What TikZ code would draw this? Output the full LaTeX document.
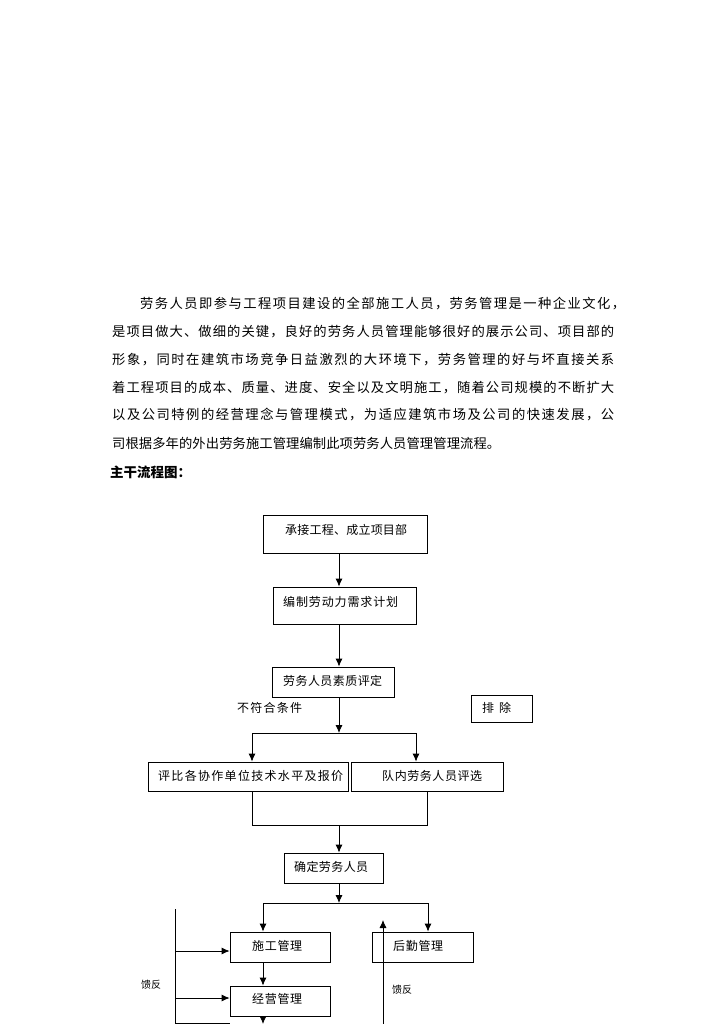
\documentclass[tikz,border=0pt]{standalone}
\usepackage{fontspec}
\setmainfont{Noto Sans CJK SC}
\usetikzlibrary{arrows.meta}
\makeatletter
\def\jl@#1{#1\futurelet\jl@next\jl@c}
\def\jl@c{\ifx\jl@next\relax\expandafter\@gobble\else\hfil\expandafter\jl@\fi}
\newcommand\jline[2]{\hbox to #1{\jl@#2\relax}}
\makeatother
\tikzset{
  box/.style={draw, line width=0.8pt, inner sep=0pt},
  para/.style={anchor=west, inner sep=0pt, font=\fontsize{13.3pt}{13.3pt}\selectfont},
  ftext/.style={anchor=west, inner sep=0pt, font=\fontsize{12pt}{12pt}\selectfont},
  small/.style={anchor=west, inner sep=0pt, font=\fontsize{10pt}{10pt}\selectfont},
  conn/.style={line width=0.8pt},
  arr/.style={line width=0.8pt, -{Latex[length=8pt,width=7pt]}}
}
\begin{document}
\begin{tikzpicture}[x=1pt,y=-1pt]
\useasboundingbox (0,0) rectangle (724,1024);
% paragraph
\node[para] (p1) at (140,304) {\jline{485pt}{劳务人员即参与工程项目建设的全部施工人员，劳务管理是一种企业文化，}};
\node[para] (p2) at (112,332) {\jline{502pt}{是项目做大、做细的关键，良好的劳务人员管理能够很好的展示公司、项目部的}};
\node[para] (p3) at (112,360) {\jline{502pt}{形象，同时在建筑市场竞争日益激烈的大环境下，劳务管理的好与坏直接关系}};
\node[para] (p4) at (112,387.5) {\jline{502pt}{着工程项目的成本、质量、进度、安全以及文明施工，随着公司规模的不断扩大}};
\node[para] (p5) at (112,415) {\jline{502pt}{以及公司特例的经营理念与管理模式，为适应建筑市场及公司的快速发展，公}};
\node[para] (p6) at (112,443) {\jline{388pt}{司根据多年的外出劳务施工管理编制此项劳务人员管理管理流程。}};
\node[para, font=\fontsize{13.5pt}{13.5pt}\selectfont\bfseries] (title) at (110,472) {主干流程图：};
% boxes
\node[box, minimum width=164pt, minimum height=38pt] (b1) at (345,534) {};
\node[box, minimum width=143pt, minimum height=37pt] (b2) at (344.5,605.5) {};
\node[box, minimum width=122pt, minimum height=30pt] (b3) at (333,682) {};
\node[box, minimum width=61pt, minimum height=27pt] (bx) at (501.5,708.5) {};
\node[box, minimum width=200pt, minimum height=29pt] (b4) at (248,776.5) {};
\node[box, minimum width=152pt, minimum height=29pt] (b5) at (427,776.5) {};
\node[box, minimum width=99pt, minimum height=30pt] (b6) at (333.5,868) {};
\node[box, minimum width=100pt, minimum height=30pt] (b7) at (280,947) {};
\node[box, minimum width=101pt, minimum height=30pt] (b8) at (422.5,947) {};
\node[box, minimum width=100pt, minimum height=30pt] (b9) at (280,1001) {};
% texts
\node[ftext] (t1) at (285,530) {\jline{122pt}{承接工程、成立项目部}};
\node[ftext] (t2) at (283,602) {\jline{115pt}{编制劳动力需求计划}};
\node[ftext] (t3) at (283,681) {\jline{99pt}{劳务人员素质评定}};
\node[ftext] (tx) at (482,708) {\jline{29pt}{排除}};
\node[ftext] (tn) at (237,708) {\jline{65pt}{不符合条件}};
\node[ftext] (t4) at (158,776) {\jline{185pt}{评比各协作单位技术水平及报价}};
\node[ftext] (t5) at (382,776) {\jline{100pt}{队内劳务人员评选}};
\node[ftext] (t6) at (294,867) {\jline{74pt}{确定劳务人员}};
\node[ftext] (t7) at (252,946) {\jline{50pt}{施工管理}};
\node[ftext] (t8) at (393,946) {\jline{50pt}{后勤管理}};
\node[ftext] (t9) at (252,999) {\jline{50pt}{经营管理}};
\node[small] (fbl) at (141,985) {馈反};
\node[small] (fbr) at (392,990) {馈反};
% coordinates
\coordinate (c) at (339,0);
\coordinate (s1) at (339,733);
\coordinate (s1L) at (252,733);
\coordinate (s1R) at (416,733);
\coordinate (m1L) at (252,825);
\coordinate (m1R) at (427,825);
\coordinate (s2) at (339,903);
\coordinate (s2L) at (263,903);
\coordinate (s2R) at (428,903);
\coordinate (bot) at (263,1024);
\coordinate (fTop) at (175,909);
\coordinate (fBot) at (175,1024);
\coordinate (f1) at (175,951);
\coordinate (f2) at (175,998);
\coordinate (f3) at (175,1023);
\coordinate (r1) at (383,1024);
\coordinate (r2) at (383,920);
% connectors
\draw[arr] (b1.south -| c) -- (b2.north -| c);
\draw[arr] (b2.south -| c) -- (b3.north -| c);
\draw[arr] (b3.south -| c) -- (s1);
\draw[conn] (s1L) -- (s1R);
\draw[arr] (s1L) -- (s1L |- b4.north);
\draw[arr] (s1R) -- (s1R |- b5.north);
\draw[conn] (m1L |- b4.south) -- (m1L) -- (m1R) -- (m1R |- b5.south);
\draw[arr] (m1L -| c) -- (b6.north -| c);
\draw[arr] (b6.south -| c) -- (s2);
\draw[conn] (s2L) -- (s2R);
\draw[arr] (s2L) -- (s2L |- b7.north);
\draw[arr] (s2R) -- (s2R |- b8.north);
\draw[arr] (b7.south -| s2L) -- (b9.north -| s2L);
\draw[arr] (b9.south -| s2L) -- (bot);
\draw[conn] (fTop) -- (fBot);
\draw[arr] (f1) -- (f1 -| b7.west);
\draw[arr] (f2) -- (f2 -| b9.west);
\draw[conn] (f3) -- (f3 -| b9.west);
\draw[arr] (r1) -- (r2);
\end{tikzpicture}
\end{document}
